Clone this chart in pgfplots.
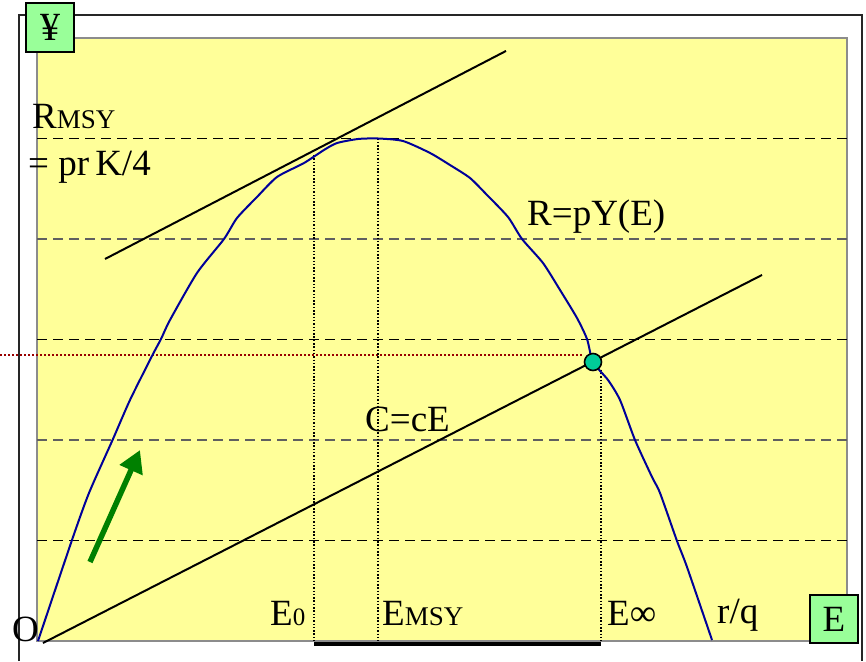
\documentclass[border=0pt]{standalone}
\usepackage{pgfplots}
\pgfplotsset{compat=1.18}
\usepackage{fontspec}
\setmainfont{Liberation Serif}
\usetikzlibrary{arrows.meta}
\definecolor{plotyellow}{HTML}{FFFF99}
\definecolor{bordergray}{HTML}{8C8C8C}
\definecolor{boxgreen}{HTML}{99FF99}
\definecolor{curveblue}{HTML}{000099}
\definecolor{teal2}{HTML}{00CC99}
\definecolor{darkred2}{HTML}{990000}
\definecolor{arrowgreen}{HTML}{008000}
\definecolor{gridgray}{HTML}{606060}
\newcommand{\lbl}{\fontsize{37}{44}\selectfont}
\newcommand{\sm}[1]{{\fontsize{27}{32}\selectfont #1}}
\begin{document}
\begin{tikzpicture}
\useasboundingbox (0,0) rectangle (866pt,661pt);
\draw[line width=2pt, draw=black!85] (19pt,0pt) -- (19pt,646pt) -- (862pt,646pt) -- (862pt,0pt);
\begin{axis}[
  at={(37pt,20pt)}, anchor=south west, scale only axis,
  width=810pt, height=603pt,
  xmin=0, xmax=810, ymin=0, ymax=6,
  xtick=\empty, ytick=\empty,
  axis line style={draw=bordergray, line width=2pt},
  axis background/.style={fill=plotyellow},
  clip=false,
]
% horizontal dashed levels
\addplot[black, line width=1.3pt, dash pattern=on 10pt off 6pt] coordinates {(0,1) (810,1)};
\addplot[gridgray, line width=1.3pt, dash pattern=on 10pt off 6pt] coordinates {(0,2) (810,2)};
\addplot[black, line width=1.3pt, dash pattern=on 10pt off 6pt] coordinates {(0,3) (810,3)};
\addplot[gridgray, line width=1.3pt, dash pattern=on 10pt off 6pt] coordinates {(0,4) (810,4)};
\addplot[black, line width=1.3pt, dash pattern=on 10pt off 6pt] coordinates {(0,5) (810,5)};
% red dotted level at the equilibrium
\addplot[darkred2, line width=1.6pt, dash pattern=on 1.5pt off 2.5pt] coordinates {(-37,2.846) (545,2.846)};
% vertical dotted lines
\addplot[black, line width=1.6pt, dash pattern=on 1.5pt off 1.8pt] coordinates {(277,4.836) (277,0)};
\addplot[black, line width=1.6pt, dash pattern=on 1.5pt off 1.8pt] coordinates {(341,5.0) (341,0)};
\addplot[black, line width=1.6pt, dash pattern=on 1.5pt off 1.8pt] coordinates {(564,2.70) (564,0)};
% thick segment below the axis
\addplot[black, line width=3.5pt] coordinates {(277,-0.03) (564,-0.03)};
% tangent line
\addplot[black, line width=2pt] coordinates {(68,3.801) (469,5.871)};
% cost line C = cE
\addplot[black, line width=2pt] coordinates {(6,-0.02) (725,3.642)};
% revenue curve R = pY(E)
\addplot[curveblue, line width=2pt, smooth, tension=0.4] coordinates {
(1,0) (35,1.005) (52,1.473) (76,2.01) (93,2.398) (115,2.836) (124,3.005)
(133,3.194) (160,3.662) (187,4.0) (200,4.209) (220,4.418) (240,4.617)
(267,4.756) (287,4.886) (300,4.955) (321,4.995) (341,5.0) (366,4.975)
(393,4.856) (413,4.736) (433,4.607) (450,4.438) (471,4.219) (485,4.0)
(506,3.761) (523,3.493) (540,3.214) (550,3.005) (556,2.776) (571,2.597)
(583,2.398) (598,2.0) (615,1.632) (623,1.473) (640,0.995) (650,0.736) (675,0.01)
};
% green arrow
\addplot[arrowgreen, line width=5.5pt, -{Triangle[length=22pt,width=24pt]}] coordinates {(53,0.786) (103,1.90)};
% equilibrium point
\addplot[only marks, mark=*, mark size=8.5pt, mark options={fill=teal2, draw=black, line width=1.6pt}] coordinates {(556,2.776)};
% labels
\node[anchor=base west, inner sep=0pt] at (axis cs:-5,5.104) {\lbl R\sm{MSY}};
\node[anchor=base west, inner sep=0pt] at (axis cs:-9,4.627) {\lbl = pr\,K/4};
\node[anchor=base west, inner sep=0pt] at (axis cs:490,4.139) {\lbl R=pY(E)};
\node[anchor=base west, inner sep=0pt] at (axis cs:328,2.08) {\lbl C=cE};
\node[anchor=base west, inner sep=0pt] at (axis cs:233,0.159) {\lbl E{\fontsize{25}{28}\selectfont 0}};
\node[anchor=base west, inner sep=0pt] at (axis cs:345,0.159) {\lbl E\sm{MSY}};
\node[anchor=base west, inner sep=0pt] at (axis cs:570,0.159) {\lbl E∞};
\node[anchor=base west, inner sep=0pt] at (axis cs:680,0.179) {\lbl r/q};
\node[anchor=base west, inner sep=0pt] at (axis cs:-25,0.0) {\lbl O};
\end{axis}
\node[draw=black, line width=1.8pt, fill=boxgreen, minimum width=48pt, minimum height=49pt, inner sep=0pt] at (50pt,633.5pt) {\fontsize{40}{44}\selectfont ¥};
\node[draw=black, line width=1.8pt, fill=boxgreen, minimum width=48pt, minimum height=48pt, inner sep=0pt] at (834pt,42pt) {\lbl E};
\end{tikzpicture}
\end{document}
